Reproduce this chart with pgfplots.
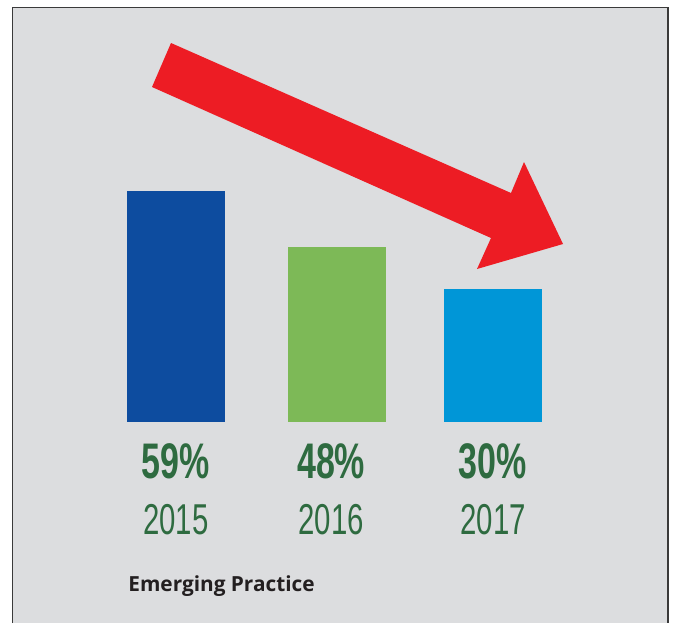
\documentclass[border=0pt]{standalone}
\usepackage{fontspec}
\usepackage{pgfplots}
\pgfplotsset{compat=1.18}
\newfontfamily\cond[FakeStretch=0.68]{Liberation Sans}
\newfontfamily\osans{Open Sans}
\definecolor{panel}{RGB}{220,221,223}
\definecolor{frame}{RGB}{58,58,58}
\definecolor{bar15}{RGB}{13,76,159}
\definecolor{bar16}{RGB}{125,185,87}
\definecolor{bar17}{RGB}{0,150,215}
\definecolor{arrowred}{RGB}{237,28,36}
\definecolor{txtgreen}{RGB}{46,107,64}
\definecolor{txtdark}{RGB}{35,31,32}
\protected\def\pct{\fontsize{25}{28}\selectfont\cond\bfseries}
\protected\def\yr{\fontsize{21.6}{28}\selectfont\cond}

\begin{document}
\begin{tikzpicture}
% panel, drawn in pixel units (y down from the top)
\begin{scope}[x=0.5pt,y=-0.5pt,shift={(0pt,311.5pt)}]
  \fill[white] (0,0) rectangle (673,623);
  \fill[panel] (12.5,7.5) rectangle (668,623);
  \draw[frame,line width=0.8pt] (12.5,623) -- (12.5,7.5) -- (668,7.5) -- (668,623);
  \fill[arrowred] (171,43) -- (511,193) -- (524,162) -- (563,244)
                  -- (477,269) -- (491,238) -- (152,87) -- cycle;
  \node[anchor=base west,inner sep=0pt,text=txtdark,font=\osans\bfseries\fontsize{10.4}{12}\selectfont]
    at (128,591) {Emerging Practice};
\end{scope}
\begin{axis}[
    at={(0pt,0pt)}, anchor=south west,
    scale only axis,
    width=336.5pt, height=311.5pt,
    xmin=-1.1104, xmax=3.1356,
    ymin=-51.34, ymax=107.78,
    axis line style={draw=none},
    tick style={draw=none},
    ytick=\empty,
    xtick={0,0.979,2},
    xticklabels={{{\pct 59\%}\\{\yr 2015}},{{\pct 48\%}\\{\yr 2016}},{{\pct 30\%}\\{\yr 2017}}},
    xticklabel style={anchor=north,inner sep=0pt,align=center,
                      font=\fontsize{21.6}{28}\selectfont,
                      text=txtgreen,yshift=94pt},
    ybar, bar width=49pt, bar shift=0pt,
  ]
  \addplot[draw=none,fill=bar15] coordinates {(0,59)};
  \addplot[draw=none,fill=bar16] coordinates {(1.0158,44.7)};
  \addplot[draw=none,fill=bar17] coordinates {(2,34.0)};
\end{axis}
\pgfresetboundingbox
\path[use as bounding box] (0pt,0pt) rectangle (336.5pt,311.5pt);
\end{tikzpicture}
\end{document}
